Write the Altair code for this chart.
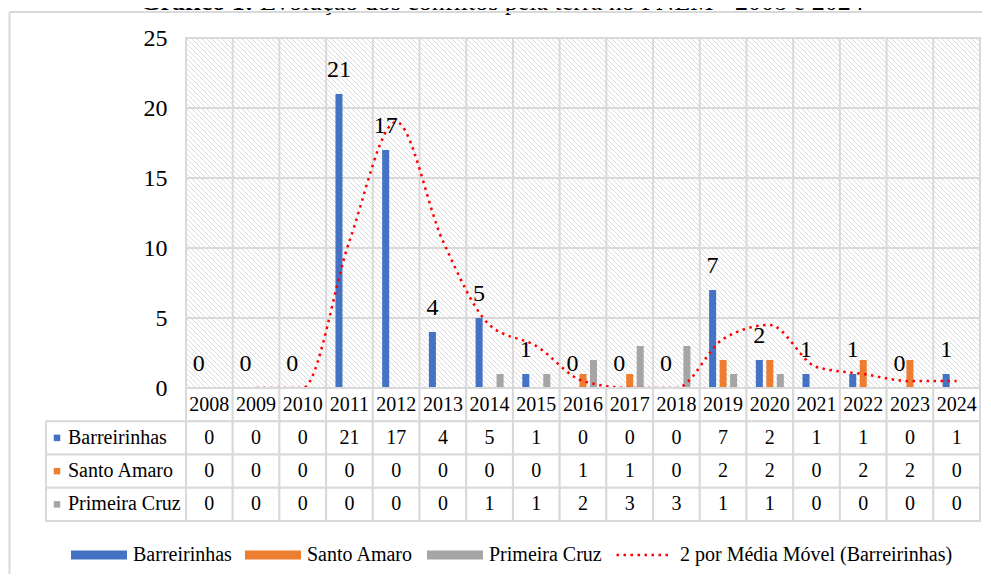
import altair as alt
import pandas as pd

# ---------------- data ----------------
years = [str(y) for y in range(2008, 2025)]
series = ["Barreirinhas", "Santo Amaro", "Primeira Cruz"]
barreirinhas = [0, 0, 0, 21, 17, 4, 5, 1, 0, 0, 0, 7, 2, 1, 1, 0, 1]
santo_amaro = [0, 0, 0, 0, 0, 0, 0, 0, 1, 1, 0, 2, 2, 0, 2, 2, 0]
primeira_cruz = [0, 0, 0, 0, 0, 0, 1, 1, 2, 3, 3, 1, 1, 0, 0, 0, 0]
media_movel = [None, 0, 0, 10.5, 19, 10.5, 4.5, 3, 0.5, 0, 0, 3.5, 4.5, 1.5, 1, 0.5, 0.5]
y_ticks = [0, 5, 10, 15, 20, 25]
colors = ["#4472C4", "#ED7D31", "#A5A5A5"]
ma_name = "2 por Média Móvel (Barreirinhas)"
title_bold = "Gráfico 1:"
title_rest = "Evolução dos conflitos pela terra no PNLM - 2008 e 2024"

values = {"Barreirinhas": barreirinhas, "Santo Amaro": santo_amaro, "Primeira Cruz": primeira_cruz}
rows = []
for s in series:
    for y, v in zip(years, values[s]):
        rows.append({"year": y, "series": s, "value": v})
df = pd.DataFrame(rows)
df_b = df[df["series"] == "Barreirinhas"]
ma_df = pd.DataFrame({"year": years, "ma": media_movel, "name": [ma_name] * len(years)})

HDR = "_hdr"
trows = [{"year": y, "row": HDR, "label": y} for y in years]
for s in series:
    for y, v in zip(years, values[s]):
        trows.append({"year": y, "row": s, "label": str(v)})
tdf = pd.DataFrame(trows)

# ---------------- style ----------------
FONT = "Liberation Serif"
GRID = "#D9D9D9"
PW, PH = 794, 350
LW = 140
TH = 133

x_scale = alt.Scale(domain=years, paddingInner=0, paddingOuter=0)
xo_scale = alt.Scale(domain=series, paddingInner=0.33, paddingOuter=0.89)
y_scale = alt.Scale(domain=[0, 25], nice=False)
color_scale = alt.Scale(domain=series, range=colors)
row_scale = alt.Scale(domain=[HDR] + series, paddingInner=0, paddingOuter=0)
yax = alt.Axis(values=y_ticks, title=None, domain=False, ticks=False, grid=False,
               labelFont=FONT, labelFontSize=24, labelColor="#000000", labelPadding=19)

# ---------------- bar chart ----------------
hatch = alt.Chart(alt.sequence(-355, 800, 5, as_="a")).transform_calculate(
    b="datum.a + 350"
).mark_rule(clip=True, color="#DCDCDC", strokeWidth=1).encode(
    x=alt.X("a:Q", scale=alt.Scale(domain=[0, PW], nice=False, zero=False), axis=None),
    x2="b:Q",
    y=alt.value(0),
    y2=alt.value(PH),
)

hgrid = alt.Chart(pd.DataFrame({"t": y_ticks})).mark_rule(color=GRID, strokeWidth=2).encode(
    y=alt.Y("t:Q", scale=y_scale, axis=yax),
)

vgrid = alt.Chart(pd.DataFrame({"year": years})).mark_rule(color=GRID, strokeWidth=2).encode(
    x=alt.X("year:N", scale=x_scale, axis=None, bandPosition=0),
)

bars = alt.Chart(df).mark_bar().encode(
    x=alt.X("year:N", scale=x_scale, axis=None),
    xOffset=alt.XOffset("series:N", scale=xo_scale),
    y=alt.Y("value:Q", scale=y_scale, axis=yax),
    color=alt.Color("series:N", scale=color_scale,
                    legend=alt.Legend(title=None, orient="none", legendX=25, legendY=537,
                                      direction="horizontal", columns=3,
                                      symbolType="M-1,-0.16H1V0.16H-1Z", symbolSize=3136,
                                      symbolStrokeWidth=0, clipHeight=20,
                                      labelFont=FONT, labelFontSize=20, labelColor="#000000",
                                      labelOffset=6, columnPadding=13, labelLimit=400)),
)

line = alt.Chart(ma_df).mark_line(color="#FF0000", strokeWidth=2.5, interpolate="monotone").encode(
    x=alt.X("year:N", scale=x_scale, axis=None),
    y=alt.Y("ma:Q", scale=y_scale, axis=yax),
    strokeDash=alt.StrokeDash("name:N", scale=alt.Scale(domain=[ma_name], range=[[2.5, 4.5]]),
                              legend=alt.Legend(title=None, orient="none", legendX=569, legendY=537,
                                                symbolType="stroke", symbolSize=2916,
                                                symbolStrokeColor="#FF0000", symbolStrokeWidth=2.5,
                                                clipHeight=20,
                                                labelFont=FONT, labelFontSize=20,
                                                labelColor="#000000", labelOffset=8,
                                                labelLimit=400)),
)

labels = alt.Chart(df_b).mark_text(font=FONT, fontSize=24, baseline="alphabetic", dy=-17,
                                   color="#000000").encode(
    x=alt.X("year:N", scale=x_scale, axis=None),
    xOffset=alt.XOffset("series:N", scale=xo_scale),
    y=alt.Y("value:Q", scale=y_scale, axis=yax),
    text="value:Q",
)

bar_chart = alt.layer(hatch, hgrid, vgrid, bars, line, labels).resolve_scale(
    x="independent"
).properties(width=PW, height=PH, view=alt.ViewBackground(stroke=GRID, strokeWidth=2))

# ---------------- spacer ----------------
spacer = alt.Chart(pd.DataFrame({"k": [0]})).mark_point(opacity=0).encode(
    x=alt.value(0), y=alt.value(0)
).properties(width=LW, height=PH, view=alt.ViewBackground(stroke=None))

# ---------------- label column ----------------
lab_df = pd.DataFrame({"series": series})
lab_rect = alt.Chart(lab_df).mark_rect(fill="white", stroke=GRID, strokeWidth=2).encode(
    y=alt.Y("series:N", scale=row_scale, axis=None),
    x=alt.value(0), x2=alt.value(LW),
)
lab_sq = alt.Chart(lab_df).mark_square(size=42, opacity=1).encode(
    y=alt.Y("series:N", scale=row_scale, axis=None),
    x=alt.value(11),
    color=alt.Color("series:N", scale=color_scale, legend=None),
)
lab_txt = alt.Chart(lab_df).mark_text(align="left", baseline="middle", font=FONT, fontSize=20,
                                      color="#000000").encode(
    y=alt.Y("series:N", scale=row_scale, axis=None),
    x=alt.value(22),
    text="series:N",
)
label_col = alt.layer(lab_rect, lab_sq, lab_txt).properties(
    width=LW, height=TH, view=alt.ViewBackground(stroke=None))

# ---------------- data table ----------------
t_rect = alt.Chart(tdf).mark_rect(fill="white", stroke=GRID, strokeWidth=2).encode(
    x=alt.X("year:N", scale=x_scale, axis=None),
    y=alt.Y("row:N", scale=row_scale, axis=None),
)
t_txt = alt.Chart(tdf).mark_text(font=FONT, fontSize=20, color="#000000", baseline="middle").encode(
    x=alt.X("year:N", scale=x_scale, axis=None),
    y=alt.Y("row:N", scale=row_scale, axis=None),
    text="label:N",
)
table = alt.layer(t_rect, t_txt).properties(width=PW, height=TH,
                                            view=alt.ViewBackground(stroke=None))

grid = alt.concat(spacer, bar_chart, label_col, table, columns=2, spacing=0, bounds="flush")

# ---------------- title strip + outer border ----------------
one = pd.DataFrame({"k": [0]})
t1 = alt.Chart(one).mark_text(text=title_bold, font=FONT, fontSize=26, fontWeight="bold",
                              align="right", baseline="alphabetic", clip=True,
                              color="#000000").encode(x=alt.value(207.5), y=alt.value(2))
t2 = alt.Chart(one).mark_text(text=title_rest, font=FONT, fontSize=26, align="left",
                              baseline="alphabetic", clip=True,
                              color="#000000").encode(x=alt.value(214), y=alt.value(2))
b_top = alt.Chart(one).mark_rule(color=GRID, strokeWidth=2).encode(
    x=alt.value(-36.5), x2=alt.value(936), y=alt.value(4))
b_left = alt.Chart(one).mark_rule(color=GRID, strokeWidth=2).encode(
    x=alt.value(-36.5), y=alt.value(4), y2=alt.value(566))
strip = alt.layer(t1, t2, b_top, b_left).properties(width=LW + PW, height=20,
                                                   view=alt.ViewBackground(stroke=None))

chart = alt.vconcat(strip, grid, spacing=10, bounds="flush").properties(
    padding={"left": 0, "top": 0, "right": 0, "bottom": 0},
    background="white",
).configure_view(stroke=None)

chart.save("out.html", embed_options={"renderer": "svg", "actions": False})
